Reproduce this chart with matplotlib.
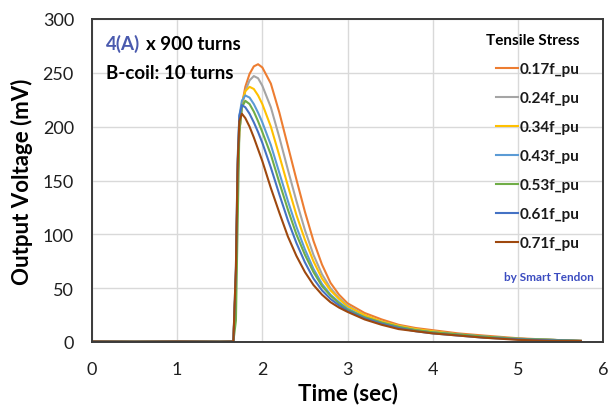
import matplotlib
matplotlib.use("Agg")
import matplotlib.pyplot as plt

plt.rcParams['font.family'] = ['Lato', 'DejaVu Sans']

# ---- data ----
time_s = [0, 0.5, 1.0, 1.5, 1.66, 1.69, 1.71, 1.73, 1.76, 1.80, 1.85, 1.90, 1.95,
          2.00, 2.10, 2.20, 2.30, 2.40, 2.50, 2.60, 2.70, 2.80, 2.90, 3.00,
          3.20, 3.40, 3.60, 3.80, 4.00, 4.30, 4.60, 5.00, 5.40, 5.74]

v_017 = [0.5, 0.3, 0.5, 0.3, 0.5, 60, 150, 195, 220, 237, 249, 256, 258,
         255, 240, 213, 182, 151, 121, 94, 72, 55, 44, 36,
         27, 21, 16, 13, 11, 8, 6, 3.5, 2, 1]
v_024 = [0.5, 0.3, 0.5, 0.3, 0.5, 60, 150, 195, 218, 233, 243, 247, 245,
         238, 218, 190, 160, 131, 104, 81, 63, 50, 41, 34,
         25, 19, 15, 12, 10, 7, 5, 3, 2, 1]
v_034 = [0.5, 0.3, 0.5, 0.3, 0.5, 60, 150, 200, 222, 233, 237, 235, 229,
         221, 200, 173, 145, 118, 95, 75, 59, 48, 40, 33,
         25, 19, 15, 12, 10, 7, 5, 3, 2, 1]
v_043 = [0.5, 0.3, 0.5, 0.3, 0.5, 60, 160, 210, 224, 229, 227, 221, 213,
         204, 183, 157, 131, 107, 86, 68, 54, 44, 37, 31,
         23, 18, 14, 11, 9, 7, 5, 3, 2, 1]
v_053 = [0.5, 0.3, 0.5, 0.3, 0.5, 20, 110, 195, 218, 224, 221, 214, 205,
         195, 174, 148, 123, 100, 81, 65, 52, 43, 36, 30,
         23, 18, 14, 11, 9, 7, 5, 3, 2, 1]
v_061 = [0.5, 0.3, 0.5, 0.3, 0.5, 70, 170, 210, 220, 218, 212, 204, 195,
         185, 162, 137, 113, 92, 74, 59, 48, 40, 34, 29,
         22, 17, 13, 10, 8, 6, 4, 2.5, 1.5, 1]
v_071 = [0.5, 0.3, 0.5, 0.3, 0.5, 70, 165, 205, 212, 208, 200, 190, 179,
         168, 143, 120, 98, 80, 65, 53, 44, 37, 32, 28,
         21, 16, 12, 10, 8, 6, 4, 2, 1, 1]

series_labels = ["0.17f_pu", "0.24f_pu", "0.34f_pu", "0.43f_pu",
                 "0.53f_pu", "0.61f_pu", "0.71f_pu"]
series_values = [v_017, v_024, v_034, v_043, v_053, v_061, v_071]
series_colors = ["#ED7D31", "#A5A5A5", "#FFC000", "#5B9BD5",
                 "#70AD47", "#4472C4", "#9E480E"]

x_ticks = [0, 1, 2, 3, 4, 5, 6]
y_ticks = [0, 50, 100, 150, 200, 250, 300]

# ---- figure ----
fig = plt.figure(figsize=(6.09, 4.10), dpi=100)
ax = fig.add_axes([92 / 609, 1 - 343 / 410, (603 - 92) / 609, (343 - 20) / 410])

for vals, lab, col in zip(series_values, series_labels, series_colors):
    ax.plot(time_s, vals, color=col, lw=1.5, label=lab, solid_joinstyle='round')

ax.set_xlim(0, 6)
ax.set_ylim(0, 300)
ax.set_xticks(x_ticks)
ax.set_yticks(y_ticks)
ax.tick_params(axis='both', length=0, labelsize=13, colors='#1F1F1F')
ax.tick_params(axis='y', pad=13)
ax.tick_params(axis='x', pad=14)
ax.grid(True, color='#D9D9D9', lw=1.0)
ax.set_axisbelow(True)
for sp in ax.spines.values():
    sp.set_color('#3A3A3A')
    sp.set_linewidth(1.4)

ax.set_xlabel("Time (sec)", fontsize=16, fontweight='bold', labelpad=3)
ax.set_ylabel("Output Voltage (mV)", fontsize=16, fontweight='bold', labelpad=7)

# annotations
t1 = ax.text(0.027, 0.925, "4(A)", transform=ax.transAxes, fontsize=13.5,
             fontweight='bold', color='#4A5AAE', ha='left', va='center')
ax.annotate("x 900 turns", xy=(1, 0.5), xycoords=t1, xytext=(4, 0),
            textcoords='offset points', fontsize=13.5, fontweight='bold',
            color='black', ha='left', va='center')
ax.text(0.027, 0.833, "B-coil: 10 turns", transform=ax.transAxes, fontsize=13.5,
        fontweight='bold', color='black', ha='left', va='center')

leg = ax.legend(loc='upper right', bbox_to_anchor=(0.965, 0.975), frameon=False,
                title="Tensile Stress", alignment='right',
                prop={'size': 11, 'weight': 'bold'}, handlelength=1.4,
                handletextpad=0.1, labelspacing=0.98, borderaxespad=0)
leg.get_title().set_fontsize(11)
leg.get_title().set_fontweight('bold')
for t in leg.get_texts():
    t.set_color('#1A1A1A')

ax.text(0.982, 0.204, "by Smart Tendon", transform=ax.transAxes, fontsize=8.5,
        fontweight='bold', color='#3B4CC0', ha='right', va='center')

fig.savefig("out.png", dpi=100)
